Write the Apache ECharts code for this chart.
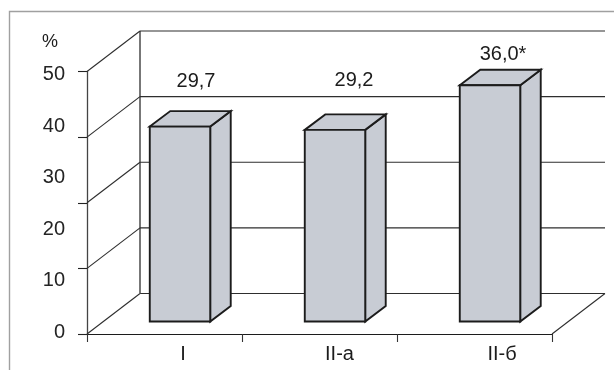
<!DOCTYPE html>
<html>
<head>
<meta charset="utf-8">
<style>html,body{margin:0;padding:0;background:#fff}#chart{width:614px;height:370px}</style>
<script src="https://cdn.jsdelivr.net/npm/echarts@6/dist/echarts.min.js"></script>
</head>
<body>
<div id="chart"></div>
<script>
// Chart data
const groups = ['I', 'II-а', 'II-б'];
const percentValues = [29.7, 29.2, 36.0];
const valueLabels = ['29,7', '29,2', '36,0*'];
const wallLevels = [0, 10, 20, 30, 40];
const scaleLabels = [0, 10, 20, 30, 40, 50];

// Pseudo-3D layout, in pixels
const WALL = { dx: 53, dy: -40.5 };
const BAR_SHIFT = { dx: 15.5, dy: -12.5 };
const BAR_DEPTH = { dx: 20.5, dy: -15.5 };
const BAR_WIDTH_RATIO = 0.39;
const LABEL_CENTER = [[196, 81], [354, 80], [503, 54]];
const GROUP_LABEL_SHIFT = [37, 40, 55];

const INK = '#1c1c1c';
const WALL_INK = '#2e2e2e';
const BAR_FILL = '#c8ccd4';
const FONT = '"Liberation Sans", Arial, sans-serif';

function renderWall(params, api) {
  const level = api.value(1);
  const box = params.coordSys;
  const y = api.coord([0, level])[1];
  const x0 = box.x, x1 = box.x + box.width;
  const line = (a, b, c, d) => ({
    type: 'line',
    shape: { x1: a, y1: b, x2: c, y2: d },
    style: { stroke: WALL_INK, lineWidth: 1.1 }
  });
  const parts = [
    line(x0, y, x0 + WALL.dx, y + WALL.dy),
    line(x0 + WALL.dx, y + WALL.dy, x1 + WALL.dx, y + WALL.dy)
  ];
  if (level === 0) {
    parts.push(line(x1, y, x1 + WALL.dx, y + WALL.dy));
    const top = api.coord([0, wallLevels[wallLevels.length - 1]])[1];
    parts.push({
      type: 'line',
      shape: { x1: x0 + WALL.dx, y1: y + WALL.dy, x2: x0 + WALL.dx, y2: top + WALL.dy },
      style: { stroke: '#555', lineWidth: 1.6 }
    });
  }
  return { type: 'group', children: parts };
}

function renderBar(params, api) {
  const i = api.value(0);
  const v = api.value(1);
  const center = api.coord([i, 0])[0] + BAR_SHIFT.dx;
  const w = api.size([1, 0])[0] * BAR_WIDTH_RATIO;
  const bottom = api.coord([i, 0])[1] + BAR_SHIFT.dy;
  const top = api.coord([i, v])[1] + BAR_SHIFT.dy;
  const l = center - w / 2, r = center + w / 2;
  const d = BAR_DEPTH;
  const style = { fill: BAR_FILL, stroke: INK, lineWidth: 1.9, lineJoin: 'miter' };
  return {
    type: 'group',
    children: [
      { type: 'polygon', shape: { points: [[r, top], [r + d.dx, top + d.dy], [r + d.dx, bottom + d.dy], [r, bottom]] }, style },
      { type: 'polygon', shape: { points: [[l, top], [l + d.dx, top + d.dy], [r + d.dx, top + d.dy], [r, top]] }, style },
      { type: 'rect', shape: { x: l, y: top, width: w, height: bottom - top }, style },
      {
        type: 'text',
        style: {
          x: LABEL_CENTER[i][0], y: LABEL_CENTER[i][1],
          text: valueLabels[i], align: 'center', verticalAlign: 'middle',
          fill: INK, font: '20px ' + FONT
        }
      }
    ]
  };
}

const rich = {};
GROUP_LABEL_SHIFT.forEach((s, i) => { rich['g' + i] = { padding: [0, 0, 0, s], fontSize: 20, fontFamily: FONT, color: INK }; });

const chart = echarts.init(document.getElementById('chart'), null, { renderer: 'canvas' });
chart.setOption({
  animation: false,
  backgroundColor: '#fff',
  grid: [
    { left: 87, right: 62, top: 71.5, bottom: 36 },
    { left: 87, right: 62, top: 74.5, bottom: 37.5 }
  ],
  xAxis: [
    {
      gridIndex: 0, type: 'category', data: groups,
      axisLine: { lineStyle: { color: INK, width: 1.2 } },
      axisTick: { show: true, alignWithLabel: false, length: 8, lineStyle: { color: '#333', width: 1.1 } },
      axisLabel: {
        margin: 10,
        formatter: (v, i) => '{g' + i + '|' + v + '}',
        rich
      }
    },
    { gridIndex: 1, type: 'value', show: false }
  ],
  yAxis: [
    {
      gridIndex: 0, type: 'value', min: 0, max: 40, interval: 10,
      axisLine: { show: true, lineStyle: { color: '#444', width: 1.3 } },
      axisTick: { show: true, length: 9, lineStyle: { color: '#222', width: 1.1 } },
      axisLabel: { show: false },
      splitLine: { show: false }
    },
    {
      gridIndex: 1, type: 'value', min: 0, max: 50, interval: 10,
      axisLine: { show: false },
      axisTick: { show: false },
      axisLabel: { margin: 22, fontSize: 20, fontFamily: FONT, color: '#242424' },
      splitLine: { show: false }
    }
  ],
  series: [
    {
      name: 'Стенки', type: 'custom', xAxisIndex: 0, yAxisIndex: 0, z: 1, clip: false,
      renderItem: renderWall, data: wallLevels.map(level => [0, level]), silent: true
    },
    {
      name: '%', type: 'custom', xAxisIndex: 0, yAxisIndex: 0, z: 3, clip: false,
      renderItem: renderBar, data: percentValues.map((v, i) => [i, v])
    },
    {
      name: 'Шкала', type: 'line', xAxisIndex: 1, yAxisIndex: 1, symbol: 'none',
      lineStyle: { opacity: 0 }, silent: true, data: scaleLabels.map(v => [0, v])
    }
  ],
  graphic: [
    { type: 'polyline', z: 0, shape: { points: [[9.5, 370], [9.5, 11.5], [614, 11.5]] }, style: { stroke: '#a0a0a0', lineWidth: 1.4, fill: null } },
    { type: 'text', z: 5, style: { x: 50, y: 42, text: '%', align: 'center', verticalAlign: 'middle', fill: INK, font: '18px ' + FONT } }
  ]
});
</script>
</body>
</html>
